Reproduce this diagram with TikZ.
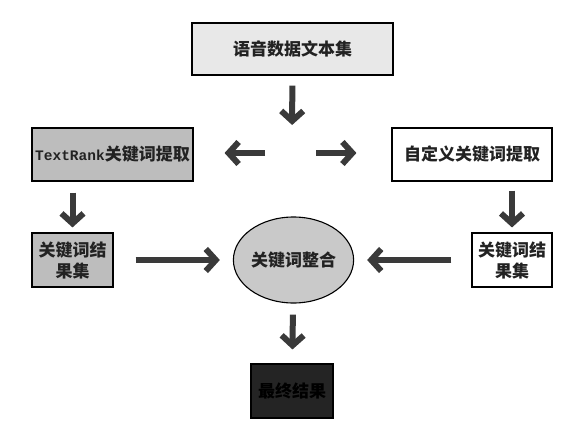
\documentclass[tikz,border=0pt]{standalone}
\usepackage{fontspec}
\setmainfont{Noto Sans CJK SC}
\newfontfamily\monofont{Liberation Mono}[BoldFont={Liberation Mono Bold}]
\usetikzlibrary{shapes.geometric, arrows.meta, positioning, calc}
\definecolor{arrowgray}{HTML}{3A3A3A}
\definecolor{textgray}{HTML}{222222}
\tikzset{
  block/.style = {rectangle, draw=black, line width=1.1pt, fill=white,
    inner sep=0pt, align=center, text=textgray,
    font=\fontsize{17}{21}\selectfont\bfseries},
  bigarrow/.style = {draw=arrowgray, line width=6pt,
    -{Straight Barb[length=10pt,width=22pt]}},
}

\begin{document}
\begin{tikzpicture}[x=1pt, y=-1pt]
  \useasboundingbox (0,0) rectangle (584,444);

  % Top row
  \node[block, fill=black!9, minimum width=201pt, minimum height=52pt] (data) at (292.5,49) {语音数据文本集};
  \coordinate (split) at (292,153);

  % Extraction
  \node[block, fill=black!26, minimum width=161pt, minimum height=53pt] (tr) at (112.5,154.5) {{\monofont\bfseries\fontsize{14.5}{17}\selectfont TextRank}关键词提取};
  \node[block, minimum width=160pt, minimum height=53pt] (cu) at (472,154.5) {自定义关键词提取};

  % Results
  \node[block, fill=black!26, minimum width=81pt, minimum height=54pt] (lres) at (72.5,260) {关键词结\\果集};
  \node[block, minimum width=80pt, minimum height=54pt] (rres) at (512,260) {关键词结\\果集};
  \node[block, ellipse, fill=black!21, minimum width=97pt, minimum height=86pt] (merge) at (293.5,260) {关键词整合};
  \node[block, fill=black!86, text=black, minimum width=82pt, minimum height=54pt] (final) at (292,391) {最终结果};

  % Arrows
  \draw[bigarrow, shorten <=10pt, shorten >=28pt] (data) -- (split);
  \draw[bigarrow, shorten <=27pt, shorten >=31pt] (split) -- (tr.east |- split);
  \draw[bigarrow, shorten <=24pt, shorten >=35pt] (split) -- (cu.west |- split);
  \draw[bigarrow, shorten <=11pt, shorten >=5pt] (lres |- tr.south) -- (lres.north);
  \draw[bigarrow, shorten <=9pt, shorten >=5pt] (rres |- cu.south) -- (rres.north);
  \draw[bigarrow, shorten <=22pt, shorten >=13pt] (lres.east) -- (merge.west);
  \draw[bigarrow, shorten <=20pt, shorten >=13pt] (rres.west) -- (merge.east);
  \draw[bigarrow, shorten <=11pt, shorten >=14pt] (merge) -- (final);

\end{tikzpicture}
\end{document}
